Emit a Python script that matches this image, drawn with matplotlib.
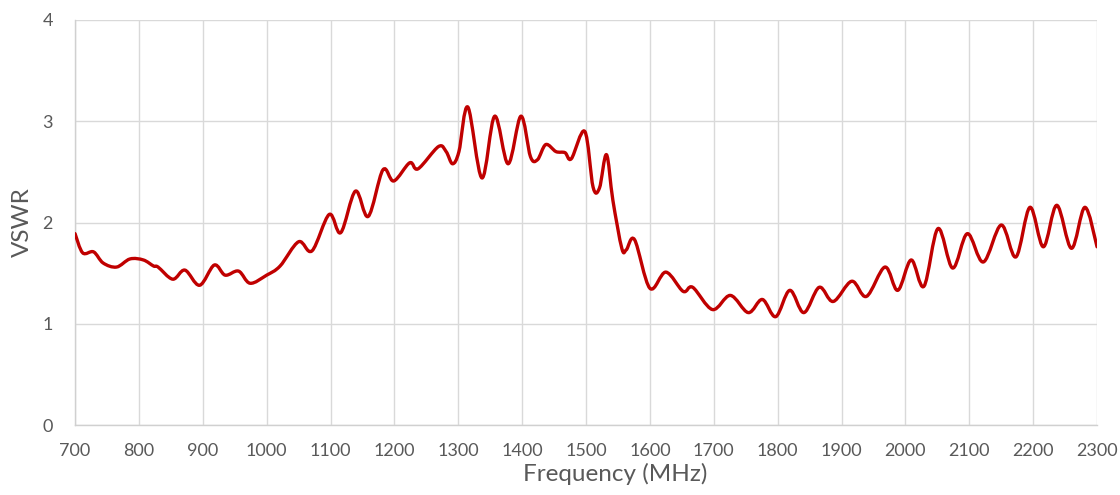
import numpy as np
import matplotlib
matplotlib.use('Agg')
import matplotlib.pyplot as plt
from matplotlib.path import Path
from matplotlib.patches import PathPatch

# frequency (MHz) and VSWR
freq = [700, 712, 729, 744, 765, 786, 807, 823, 830, 853, 872, 895, 918, 935, 956, 974,
        1000, 1021, 1050, 1071, 1098, 1116, 1139, 1159, 1182, 1199, 1224, 1237, 1269, 1281,
        1291, 1301, 1315, 1337, 1357, 1378, 1398, 1413, 1424, 1437, 1453, 1467, 1477, 1498,
        1511, 1521, 1532, 1542, 1556, 1563, 1576, 1600, 1625, 1652, 1667, 1698, 1726, 1754,
        1776, 1797, 1819, 1841, 1865, 1887, 1916, 1939, 1968, 1988, 2009, 2029, 2051, 2074,
        2097, 2122, 2150, 2173, 2195, 2216, 2237, 2260, 2281, 2300]
vswr = [1.89, 1.70, 1.71, 1.60, 1.56, 1.64, 1.63, 1.57, 1.56, 1.44, 1.53, 1.38, 1.58, 1.48, 1.52, 1.40,
        1.48, 1.57, 1.81, 1.72, 2.08, 1.90, 2.31, 2.06, 2.52, 2.41, 2.59, 2.53, 2.75, 2.70,
        2.58, 2.70, 3.14, 2.44, 3.05, 2.58, 3.05, 2.65, 2.62, 2.77, 2.70, 2.69, 2.63, 2.90,
        2.35, 2.34, 2.67, 2.22, 1.745, 1.73, 1.83, 1.35, 1.51, 1.32, 1.36, 1.14, 1.28, 1.11,
        1.24, 1.07, 1.33, 1.11, 1.36, 1.22, 1.42, 1.27, 1.56, 1.33, 1.63, 1.37, 1.94, 1.55,
        1.89, 1.61, 1.975, 1.66, 2.15, 1.76, 2.17, 1.745, 2.15, 1.76]
xticks = list(range(700, 2301, 100))
yticks = [0, 1, 2, 3, 4]

grey = '#595959'
plt.rcParams['font.family'] = ['Lato', 'DejaVu Sans']

fig = plt.figure(figsize=(11.2, 4.95), dpi=100)
ax = fig.add_axes([0.067, 0.1414, 0.9125, 0.8182])

# smoothed line like a spreadsheet "smooth line" (Catmull-Rom as cubic Bezier)
pts = np.column_stack([freq, vswr]).astype(float)
verts = [pts[0]]
codes = [Path.MOVETO]
n = len(pts)
for i in range(n - 1):
    p0 = pts[i - 1] if i > 0 else pts[i]
    p1 = pts[i]
    p2 = pts[i + 1]
    p3 = pts[i + 2] if i + 2 < n else pts[i + 1]
    verts += [p1 + (p2 - p0) / 6, p2 - (p3 - p1) / 6, p2]
    codes += [Path.CURVE4] * 3
ax.add_patch(PathPatch(Path(verts, codes), fill=False, edgecolor='#C00000',
                       linewidth=2.4, capstyle='round', joinstyle='round', zorder=3))

ax.set_xlim(700, 2300)
ax.set_ylim(0, 4)
ax.set_xticks(xticks)
ax.set_yticks(yticks)
ax.grid(True, color='#d9d9d9', linewidth=1)
ax.set_axisbelow(True)
for s in ['top', 'right']:
    ax.spines[s].set_visible(False)
for s in ['left', 'bottom']:
    ax.spines[s].set_color('#d0d0d0')
    ax.spines[s].set_linewidth(1)
ax.tick_params(length=0, labelsize=13, labelcolor=grey)
ax.tick_params(axis='x', pad=13)
ax.tick_params(axis='y', pad=16)
ax.set_xlabel('Frequency (MHz)', fontsize=17.5, color=grey, labelpad=3)
ax.xaxis.label.set_x(0.529)
ax.set_ylabel('VSWR', fontsize=17.5, color=grey, labelpad=7)

plt.savefig('out.png', dpi=100)
